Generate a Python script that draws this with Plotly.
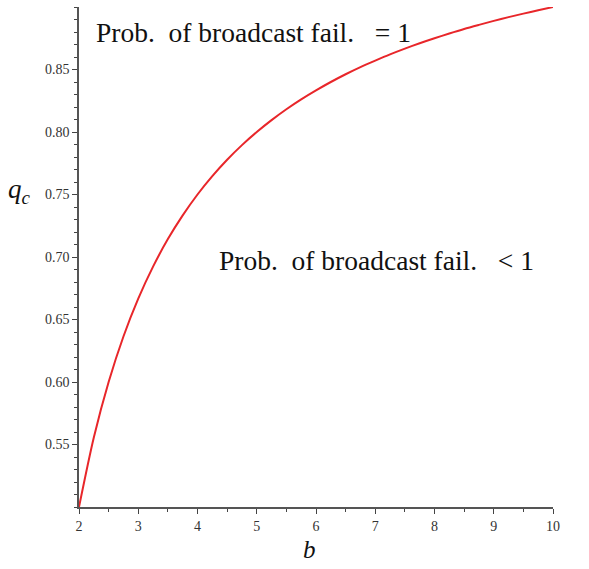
import plotly.graph_objects as go

# values
b_vals = [2.0, 2.25, 2.5, 2.75, 3.0, 3.25, 3.5, 3.75, 4.0, 4.25, 4.5, 4.75, 5.0,
          5.25, 5.5, 5.75, 6.0, 6.25, 6.5, 6.75, 7.0, 7.25, 7.5, 7.75, 8.0,
          8.25, 8.5, 8.75, 9.0, 9.25, 9.5, 9.75, 10.0]
qc_vals = [0.5000, 0.5556, 0.6000, 0.6364, 0.6667, 0.6923, 0.7143, 0.7333, 0.7500,
           0.7647, 0.7778, 0.7895, 0.8000, 0.8095, 0.8182, 0.8261, 0.8333, 0.8400,
           0.8462, 0.8519, 0.8571, 0.8621, 0.8667, 0.8710, 0.8750, 0.8788, 0.8824,
           0.8857, 0.8889, 0.8919, 0.8947, 0.8974, 0.9000]

x_ticks = [2, 3, 4, 5, 6, 7, 8, 9, 10]
y_ticks = [0.55, 0.60, 0.65, 0.70, 0.75, 0.80, 0.85]
y_tick_text = ["0.55", "0.60", "0.65", "0.70", "0.75", "0.80", "0.85"]

label_upper = "Prob.\u00a0\u00a0of broadcast fail.\u00a0\u00a0\u00a0= 1"
label_lower = "Prob.\u00a0\u00a0of broadcast fail.\u00a0\u00a0\u00a0< 1"

serif = "Liberation Serif, Times New Roman, serif"

fig = go.Figure()
fig.add_trace(go.Scatter(x=b_vals, y=qc_vals, mode="lines",
                         line=dict(color="#e8262a", width=2, shape="spline", smoothing=0.8),
                         hoverinfo="skip", showlegend=False))

axis_common = dict(showgrid=False, zeroline=False, showline=True,
                   linecolor="#555555", linewidth=1.5,
                   ticks="outside", ticklen=5, tickwidth=1.2, tickcolor="#444444",
                   tickfont=dict(family=serif, size=14, color="#333333"))

fig.update_xaxes(range=[2, 10], tickvals=x_ticks,
                 minor=dict(dtick=0.5, ticks="outside", ticklen=3, tickcolor="#444444", tickwidth=1),
                 **axis_common)
fig.update_yaxes(range=[0.5, 0.9], tickvals=y_ticks, ticktext=y_tick_text,
                 minor=dict(dtick=0.01, tick0=0.5, ticks="outside", ticklen=3, tickcolor="#444444", tickwidth=1),
                 **axis_common)

fig.add_annotation(x=2.25, y=0.880, xref="x", yref="y", text=label_upper,
                   showarrow=False, xanchor="left", yanchor="middle",
                   font=dict(family=serif, size=27.5, color="#111111"))
fig.add_annotation(x=4.33, y=0.697, xref="x", yref="y", text=label_lower,
                   showarrow=False, xanchor="left", yanchor="middle",
                   font=dict(family=serif, size=27.5, color="#111111"))

# axis titles
fig.add_annotation(x=-0.125, y=0.632, xref="paper", yref="paper", text="<i>q<sub>c</sub></i>",
                   showarrow=False, xanchor="center", yanchor="middle",
                   font=dict(family=serif, size=27, color="#111111"))
fig.add_annotation(x=0.487, y=-0.085, xref="paper", yref="paper", text="<i>b</i>",
                   showarrow=False, xanchor="center", yanchor="middle",
                   font=dict(family=serif, size=25, color="#111111"))

fig.update_layout(width=589, height=569,
                  margin=dict(l=79, r=36, t=7, b=62),
                  paper_bgcolor="white", plot_bgcolor="white")

fig.write_html("out.html")
